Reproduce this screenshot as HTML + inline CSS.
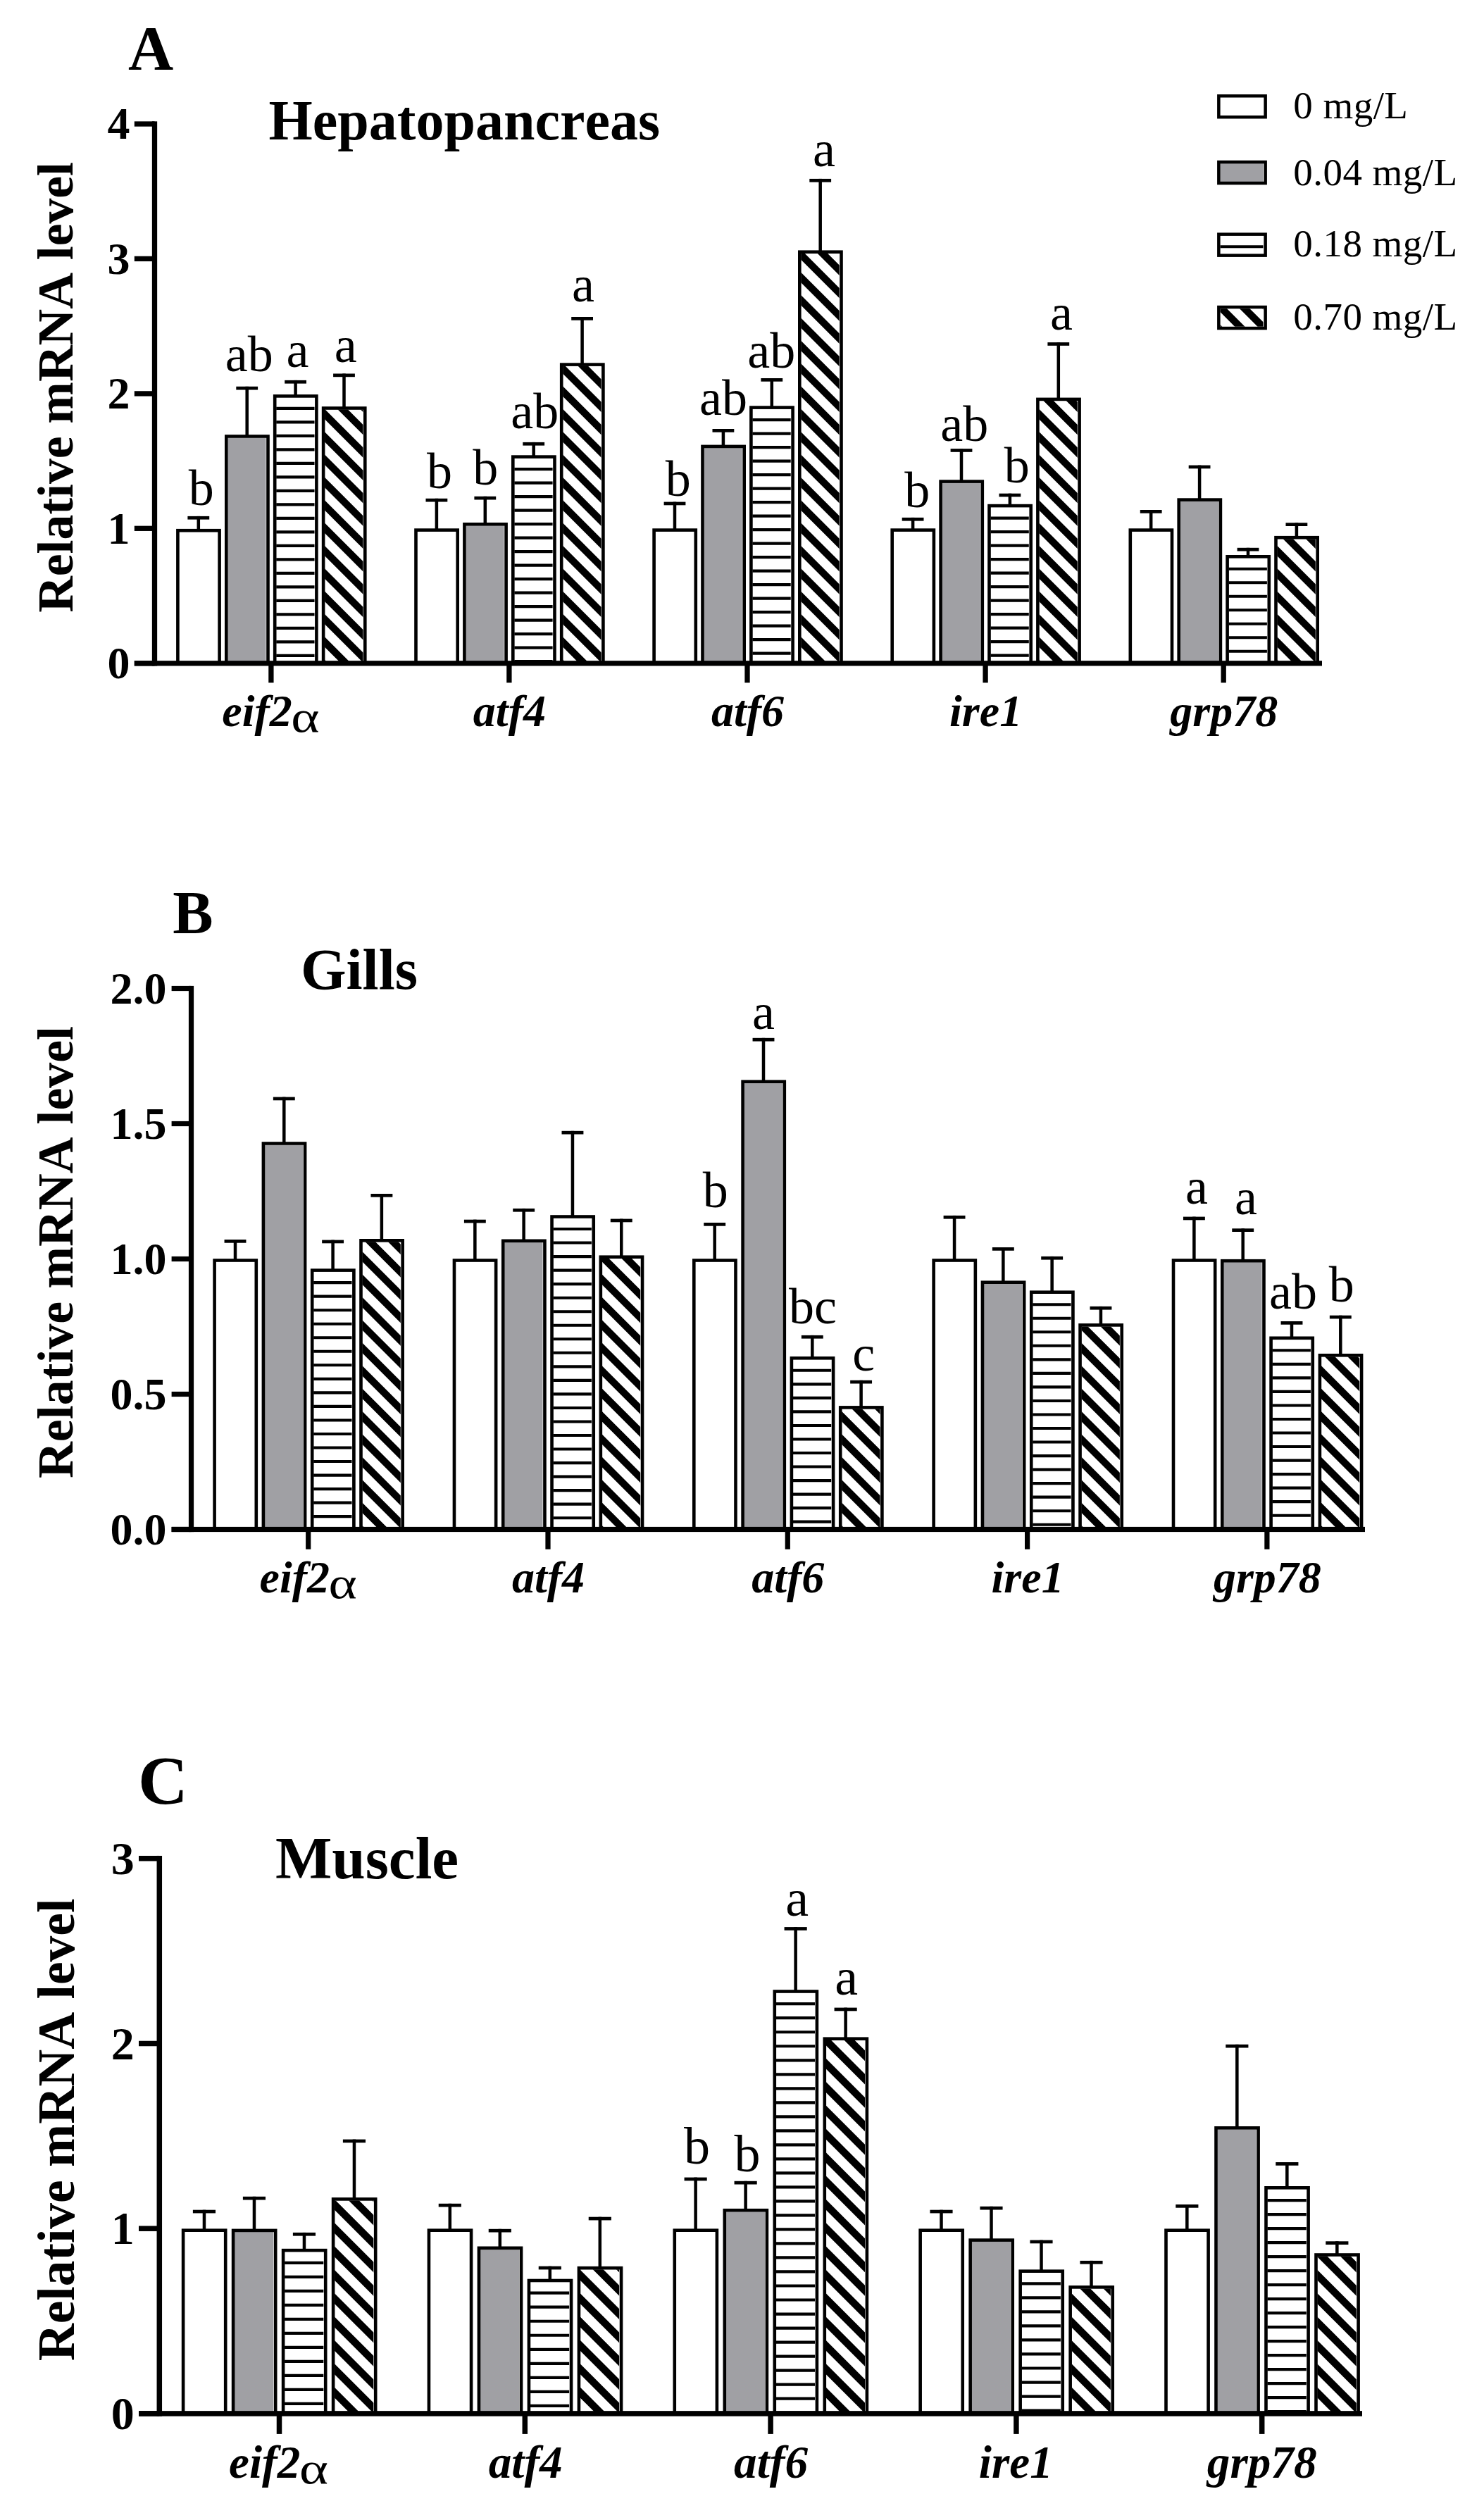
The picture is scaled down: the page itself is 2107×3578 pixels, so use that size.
<!DOCTYPE html>
<html lang="en"><head><meta charset="utf-8"><title>Relative mRNA level</title>
<style>html,body{margin:0;padding:0;background:#fff}svg{display:block}text{white-space:pre;font-kerning:none}</style>
</head><body>
<svg width="2107" height="3578" viewBox="0 0 2107 3578" font-family="'Liberation Serif',serif" fill="#000">
<rect width="2107" height="3578" fill="#fff"/>
<rect x="252.40" y="753.20" width="59.20" height="188.60" fill="none" stroke="#000" stroke-width="4.6"/>
<rect x="266.40" y="732.90" width="30.80" height="4.70" fill="#000"/>
<rect x="279.55" y="732.90" width="4.50" height="20.00" fill="#000"/>
<rect x="323.30" y="621.50" width="54.30" height="320.30" fill="#a0a0a4"/>
<rect x="321.30" y="619.50" width="59.20" height="322.30" fill="none" stroke="#000" stroke-width="4.6"/>
<rect x="335.30" y="548.80" width="30.80" height="4.70" fill="#000"/>
<rect x="348.45" y="548.80" width="4.50" height="70.40" fill="#000"/>
<path d="M392.20 577.85h54.30v4.10h-54.30zM392.20 597.35h54.30v4.10h-54.30zM392.20 616.85h54.30v4.10h-54.30zM392.20 636.35h54.30v4.10h-54.30zM392.20 655.85h54.30v4.10h-54.30zM392.20 675.35h54.30v4.10h-54.30zM392.20 694.85h54.30v4.10h-54.30zM392.20 714.35h54.30v4.10h-54.30zM392.20 733.85h54.30v4.10h-54.30zM392.20 753.35h54.30v4.10h-54.30zM392.20 772.85h54.30v4.10h-54.30zM392.20 792.35h54.30v4.10h-54.30zM392.20 811.85h54.30v4.10h-54.30zM392.20 831.35h54.30v4.10h-54.30zM392.20 850.85h54.30v4.10h-54.30zM392.20 870.35h54.30v4.10h-54.30zM392.20 889.85h54.30v4.10h-54.30zM392.20 909.35h54.30v4.10h-54.30zM392.20 928.85h54.30v4.10h-54.30z"/>
<rect x="390.20" y="562.40" width="59.20" height="379.40" fill="none" stroke="#000" stroke-width="4.6"/>
<rect x="404.20" y="539.90" width="30.80" height="4.70" fill="#000"/>
<rect x="417.35" y="539.90" width="4.50" height="22.20" fill="#000"/>
<svg x="461.10" y="581.50" width="54.30" height="360.30" viewBox="4.30 -360.30 54.30 360.30" overflow="hidden">
<path d="M-10 -497.40L90 -397.40M-10 -465.05L90 -365.05M-10 -432.70L90 -332.70M-10 -400.35L90 -300.35M-10 -368.00L90 -268.00M-10 -335.65L90 -235.65M-10 -303.30L90 -203.30M-10 -270.95L90 -170.95M-10 -238.60L90 -138.60M-10 -206.25L90 -106.25M-10 -173.90L90 -73.90M-10 -141.55L90 -41.55M-10 -109.20L90 -9.20M-10 -76.85L90 23.15M-10 -44.50L90 55.50M-10 -12.15L90 87.85M-10 20.20L90 120.20M-10 52.55L90 152.55" stroke="#000" stroke-width="10.18" fill="none"/>
</svg>
<rect x="459.10" y="579.50" width="59.20" height="362.30" fill="none" stroke="#000" stroke-width="4.6"/>
<rect x="473.10" y="530.50" width="30.80" height="4.70" fill="#000"/>
<rect x="486.25" y="530.50" width="4.50" height="48.70" fill="#000"/>
<rect x="590.50" y="752.60" width="59.20" height="189.20" fill="none" stroke="#000" stroke-width="4.6"/>
<rect x="604.50" y="707.80" width="30.80" height="4.70" fill="#000"/>
<rect x="617.65" y="707.80" width="4.50" height="44.50" fill="#000"/>
<rect x="661.40" y="746.30" width="54.30" height="195.50" fill="#a0a0a4"/>
<rect x="659.40" y="744.30" width="59.20" height="197.50" fill="none" stroke="#000" stroke-width="4.6"/>
<rect x="673.40" y="704.80" width="30.80" height="4.70" fill="#000"/>
<rect x="686.55" y="704.80" width="4.50" height="39.20" fill="#000"/>
<path d="M730.30 664.05h54.30v4.10h-54.30zM730.30 683.55h54.30v4.10h-54.30zM730.30 703.05h54.30v4.10h-54.30zM730.30 722.55h54.30v4.10h-54.30zM730.30 742.05h54.30v4.10h-54.30zM730.30 761.55h54.30v4.10h-54.30zM730.30 781.05h54.30v4.10h-54.30zM730.30 800.55h54.30v4.10h-54.30zM730.30 820.05h54.30v4.10h-54.30zM730.30 839.55h54.30v4.10h-54.30zM730.30 859.05h54.30v4.10h-54.30zM730.30 878.55h54.30v4.10h-54.30zM730.30 898.05h54.30v4.10h-54.30zM730.30 917.55h54.30v4.10h-54.30zM730.30 937.05h54.30v4.10h-54.30z"/>
<rect x="728.30" y="648.60" width="59.20" height="293.20" fill="none" stroke="#000" stroke-width="4.6"/>
<rect x="742.30" y="627.90" width="30.80" height="4.70" fill="#000"/>
<rect x="755.45" y="627.90" width="4.50" height="20.40" fill="#000"/>
<svg x="799.20" y="519.60" width="54.30" height="422.20" viewBox="4.30 -422.20 54.30 422.20" overflow="hidden">
<path d="M-10 -562.10L90 -462.10M-10 -529.75L90 -429.75M-10 -497.40L90 -397.40M-10 -465.05L90 -365.05M-10 -432.70L90 -332.70M-10 -400.35L90 -300.35M-10 -368.00L90 -268.00M-10 -335.65L90 -235.65M-10 -303.30L90 -203.30M-10 -270.95L90 -170.95M-10 -238.60L90 -138.60M-10 -206.25L90 -106.25M-10 -173.90L90 -73.90M-10 -141.55L90 -41.55M-10 -109.20L90 -9.20M-10 -76.85L90 23.15M-10 -44.50L90 55.50M-10 -12.15L90 87.85M-10 20.20L90 120.20M-10 52.55L90 152.55" stroke="#000" stroke-width="10.18" fill="none"/>
</svg>
<rect x="797.20" y="517.60" width="59.20" height="424.20" fill="none" stroke="#000" stroke-width="4.6"/>
<rect x="811.20" y="450.00" width="30.80" height="4.70" fill="#000"/>
<rect x="824.35" y="450.00" width="4.50" height="67.30" fill="#000"/>
<rect x="928.60" y="752.60" width="59.20" height="189.20" fill="none" stroke="#000" stroke-width="4.6"/>
<rect x="942.60" y="712.60" width="30.80" height="4.70" fill="#000"/>
<rect x="955.75" y="712.60" width="4.50" height="39.70" fill="#000"/>
<rect x="999.50" y="635.90" width="54.30" height="305.90" fill="#a0a0a4"/>
<rect x="997.50" y="633.90" width="59.20" height="307.90" fill="none" stroke="#000" stroke-width="4.6"/>
<rect x="1011.50" y="609.00" width="30.80" height="4.70" fill="#000"/>
<rect x="1024.65" y="609.00" width="4.50" height="24.60" fill="#000"/>
<path d="M1068.40 594.05h54.30v4.10h-54.30zM1068.40 613.55h54.30v4.10h-54.30zM1068.40 633.05h54.30v4.10h-54.30zM1068.40 652.55h54.30v4.10h-54.30zM1068.40 672.05h54.30v4.10h-54.30zM1068.40 691.55h54.30v4.10h-54.30zM1068.40 711.05h54.30v4.10h-54.30zM1068.40 730.55h54.30v4.10h-54.30zM1068.40 750.05h54.30v4.10h-54.30zM1068.40 769.55h54.30v4.10h-54.30zM1068.40 789.05h54.30v4.10h-54.30zM1068.40 808.55h54.30v4.10h-54.30zM1068.40 828.05h54.30v4.10h-54.30zM1068.40 847.55h54.30v4.10h-54.30zM1068.40 867.05h54.30v4.10h-54.30zM1068.40 886.55h54.30v4.10h-54.30zM1068.40 906.05h54.30v4.10h-54.30zM1068.40 925.55h54.30v4.10h-54.30z"/>
<rect x="1066.40" y="578.60" width="59.20" height="363.20" fill="none" stroke="#000" stroke-width="4.6"/>
<rect x="1080.40" y="537.00" width="30.80" height="4.70" fill="#000"/>
<rect x="1093.55" y="537.00" width="4.50" height="41.30" fill="#000"/>
<svg x="1137.30" y="359.70" width="54.30" height="582.10" viewBox="4.30 -582.10 54.30 582.10" overflow="hidden">
<path d="M-10 -723.85L90 -623.85M-10 -691.50L90 -591.50M-10 -659.15L90 -559.15M-10 -626.80L90 -526.80M-10 -594.45L90 -494.45M-10 -562.10L90 -462.10M-10 -529.75L90 -429.75M-10 -497.40L90 -397.40M-10 -465.05L90 -365.05M-10 -432.70L90 -332.70M-10 -400.35L90 -300.35M-10 -368.00L90 -268.00M-10 -335.65L90 -235.65M-10 -303.30L90 -203.30M-10 -270.95L90 -170.95M-10 -238.60L90 -138.60M-10 -206.25L90 -106.25M-10 -173.90L90 -73.90M-10 -141.55L90 -41.55M-10 -109.20L90 -9.20M-10 -76.85L90 23.15M-10 -44.50L90 55.50M-10 -12.15L90 87.85M-10 20.20L90 120.20M-10 52.55L90 152.55" stroke="#000" stroke-width="10.18" fill="none"/>
</svg>
<rect x="1135.30" y="357.70" width="59.20" height="584.10" fill="none" stroke="#000" stroke-width="4.6"/>
<rect x="1149.30" y="253.90" width="30.80" height="4.70" fill="#000"/>
<rect x="1162.45" y="253.90" width="4.50" height="103.50" fill="#000"/>
<rect x="1266.70" y="752.60" width="59.20" height="189.20" fill="none" stroke="#000" stroke-width="4.6"/>
<rect x="1280.70" y="734.90" width="30.80" height="4.70" fill="#000"/>
<rect x="1293.85" y="734.90" width="4.50" height="17.40" fill="#000"/>
<rect x="1337.60" y="685.60" width="54.30" height="256.20" fill="#a0a0a4"/>
<rect x="1335.60" y="683.60" width="59.20" height="258.20" fill="none" stroke="#000" stroke-width="4.6"/>
<rect x="1349.60" y="637.10" width="30.80" height="4.70" fill="#000"/>
<rect x="1362.75" y="637.10" width="4.50" height="46.20" fill="#000"/>
<path d="M1406.50 733.55h54.30v4.10h-54.30zM1406.50 753.05h54.30v4.10h-54.30zM1406.50 772.55h54.30v4.10h-54.30zM1406.50 792.05h54.30v4.10h-54.30zM1406.50 811.55h54.30v4.10h-54.30zM1406.50 831.05h54.30v4.10h-54.30zM1406.50 850.55h54.30v4.10h-54.30zM1406.50 870.05h54.30v4.10h-54.30zM1406.50 889.55h54.30v4.10h-54.30zM1406.50 909.05h54.30v4.10h-54.30zM1406.50 928.55h54.30v4.10h-54.30z"/>
<rect x="1404.50" y="718.10" width="59.20" height="223.70" fill="none" stroke="#000" stroke-width="4.6"/>
<rect x="1418.50" y="700.70" width="30.80" height="4.70" fill="#000"/>
<rect x="1431.65" y="700.70" width="4.50" height="17.10" fill="#000"/>
<svg x="1475.40" y="568.90" width="54.30" height="372.90" viewBox="4.30 -372.90 54.30 372.90" overflow="hidden">
<path d="M-10 -529.75L90 -429.75M-10 -497.40L90 -397.40M-10 -465.05L90 -365.05M-10 -432.70L90 -332.70M-10 -400.35L90 -300.35M-10 -368.00L90 -268.00M-10 -335.65L90 -235.65M-10 -303.30L90 -203.30M-10 -270.95L90 -170.95M-10 -238.60L90 -138.60M-10 -206.25L90 -106.25M-10 -173.90L90 -73.90M-10 -141.55L90 -41.55M-10 -109.20L90 -9.20M-10 -76.85L90 23.15M-10 -44.50L90 55.50M-10 -12.15L90 87.85M-10 20.20L90 120.20M-10 52.55L90 152.55" stroke="#000" stroke-width="10.18" fill="none"/>
</svg>
<rect x="1473.40" y="566.90" width="59.20" height="374.90" fill="none" stroke="#000" stroke-width="4.6"/>
<rect x="1487.40" y="486.10" width="30.80" height="4.70" fill="#000"/>
<rect x="1500.55" y="486.10" width="4.50" height="80.50" fill="#000"/>
<rect x="1604.80" y="752.60" width="59.20" height="189.20" fill="none" stroke="#000" stroke-width="4.6"/>
<rect x="1618.80" y="724.00" width="30.80" height="4.70" fill="#000"/>
<rect x="1631.95" y="724.00" width="4.50" height="28.30" fill="#000"/>
<rect x="1675.70" y="711.60" width="54.30" height="230.20" fill="#a0a0a4"/>
<rect x="1673.70" y="709.60" width="59.20" height="232.20" fill="none" stroke="#000" stroke-width="4.6"/>
<rect x="1687.70" y="660.60" width="30.80" height="4.70" fill="#000"/>
<rect x="1700.85" y="660.60" width="4.50" height="48.70" fill="#000"/>
<path d="M1744.60 805.75h54.30v4.10h-54.30zM1744.60 825.25h54.30v4.10h-54.30zM1744.60 844.75h54.30v4.10h-54.30zM1744.60 864.25h54.30v4.10h-54.30zM1744.60 883.75h54.30v4.10h-54.30zM1744.60 903.25h54.30v4.10h-54.30zM1744.60 922.75h54.30v4.10h-54.30z"/>
<rect x="1742.60" y="790.30" width="59.20" height="151.50" fill="none" stroke="#000" stroke-width="4.6"/>
<rect x="1756.60" y="777.80" width="30.80" height="4.70" fill="#000"/>
<rect x="1769.75" y="777.80" width="4.50" height="12.20" fill="#000"/>
<svg x="1813.50" y="765.20" width="54.30" height="176.60" viewBox="4.30 -176.60 54.30 176.60" overflow="hidden">
<path d="M-10 -335.65L90 -235.65M-10 -303.30L90 -203.30M-10 -270.95L90 -170.95M-10 -238.60L90 -138.60M-10 -206.25L90 -106.25M-10 -173.90L90 -73.90M-10 -141.55L90 -41.55M-10 -109.20L90 -9.20M-10 -76.85L90 23.15M-10 -44.50L90 55.50M-10 -12.15L90 87.85M-10 20.20L90 120.20M-10 52.55L90 152.55" stroke="#000" stroke-width="10.18" fill="none"/>
</svg>
<rect x="1811.50" y="763.20" width="59.20" height="178.60" fill="none" stroke="#000" stroke-width="4.6"/>
<rect x="1825.50" y="742.30" width="30.80" height="4.70" fill="#000"/>
<rect x="1838.65" y="742.30" width="4.50" height="20.60" fill="#000"/>
<rect x="215.85" y="172.35" width="7.30" height="773.10" fill="#000"/>
<rect x="190.80" y="938.15" width="1686.20" height="7.30" fill="#000"/>
<rect x="190.80" y="172.35" width="28.70" height="7.30" fill="#000"/>
<text x="184.50" y="197.20" font-size="64" font-weight="bold" font-style="normal" text-anchor="end">4</text>
<rect x="190.80" y="363.75" width="28.70" height="7.30" fill="#000"/>
<text x="184.50" y="388.60" font-size="64" font-weight="bold" font-style="normal" text-anchor="end">3</text>
<rect x="190.80" y="555.25" width="28.70" height="7.30" fill="#000"/>
<text x="184.50" y="580.10" font-size="64" font-weight="bold" font-style="normal" text-anchor="end">2</text>
<rect x="190.80" y="746.65" width="28.70" height="7.30" fill="#000"/>
<text x="184.50" y="771.50" font-size="64" font-weight="bold" font-style="normal" text-anchor="end">1</text>
<rect x="190.80" y="938.15" width="28.70" height="7.30" fill="#000"/>
<text x="184.50" y="963.00" font-size="64" font-weight="bold" font-style="normal" text-anchor="end">0</text>
<rect x="381.25" y="941.80" width="7.30" height="27.55" fill="#000"/>
<text x="315.28" y="1031.40" font-size="64" font-weight="bold" font-style="italic">eif2</text>
<text transform="translate(413.33,1039.40) scale(1.22,1)" font-size="63.0">α</text>
<rect x="719.25" y="941.80" width="7.30" height="27.55" fill="#000"/>
<text x="723.40" y="1031.40" font-size="64" font-weight="bold" font-style="italic" text-anchor="middle">atf4</text>
<rect x="1057.35" y="941.80" width="7.30" height="27.55" fill="#000"/>
<text x="1061.50" y="1031.40" font-size="64" font-weight="bold" font-style="italic" text-anchor="middle">atf6</text>
<rect x="1395.45" y="941.80" width="7.30" height="27.55" fill="#000"/>
<text x="1399.60" y="1031.40" font-size="64" font-weight="bold" font-style="italic" text-anchor="middle">ire1</text>
<rect x="1733.55" y="941.80" width="7.30" height="27.55" fill="#000"/>
<text x="1737.70" y="1031.40" font-size="64" font-weight="bold" font-style="italic" text-anchor="middle">grp78</text>
<text transform="translate(102.70,550.00) rotate(-90)" font-size="71.55" font-weight="bold" text-anchor="middle">Relative mRNA level</text>
<text x="381.60" y="197.70" font-size="80" font-weight="bold" font-style="normal" text-anchor="start">Hepatopancreas</text>
<text x="182.00" y="98.00" font-size="89" font-weight="bold" font-style="normal" text-anchor="start">A</text>
<text x="267.80" y="716.80" font-size="72" font-weight="normal" font-style="normal" text-anchor="start">b</text>
<text x="319.78" y="526.50" font-size="72" font-weight="normal" font-style="normal" text-anchor="start">ab</text>
<text x="406.48" y="520.50" font-size="72" font-weight="normal" font-style="normal" text-anchor="start">a</text>
<text x="474.78" y="513.80" font-size="72" font-weight="normal" font-style="normal" text-anchor="start">a</text>
<text x="606.10" y="692.80" font-size="72" font-weight="normal" font-style="normal" text-anchor="start">b</text>
<text x="671.30" y="687.70" font-size="72" font-weight="normal" font-style="normal" text-anchor="start">b</text>
<text x="725.18" y="608.30" font-size="72" font-weight="normal" font-style="normal" text-anchor="start">ab</text>
<text x="811.88" y="427.60" font-size="72" font-weight="normal" font-style="normal" text-anchor="start">a</text>
<text x="944.80" y="704.00" font-size="72" font-weight="normal" font-style="normal" text-anchor="start">b</text>
<text x="992.98" y="589.00" font-size="72" font-weight="normal" font-style="normal" text-anchor="start">ab</text>
<text x="1061.28" y="522.20" font-size="72" font-weight="normal" font-style="normal" text-anchor="start">ab</text>
<text x="1154.08" y="235.70" font-size="72" font-weight="normal" font-style="normal" text-anchor="start">a</text>
<text x="1284.20" y="720.20" font-size="72" font-weight="normal" font-style="normal" text-anchor="start">b</text>
<text x="1335.28" y="625.70" font-size="72" font-weight="normal" font-style="normal" text-anchor="start">ab</text>
<text x="1425.70" y="685.00" font-size="72" font-weight="normal" font-style="normal" text-anchor="start">b</text>
<text x="1490.98" y="468.20" font-size="72" font-weight="normal" font-style="normal" text-anchor="start">a</text>
<rect x="304.60" y="1789.50" width="59.20" height="382.00" fill="none" stroke="#000" stroke-width="4.6"/>
<rect x="318.56" y="1760.00" width="30.89" height="4.70" fill="#000"/>
<rect x="331.75" y="1760.00" width="4.50" height="29.20" fill="#000"/>
<rect x="375.90" y="1625.50" width="54.30" height="546.00" fill="#a0a0a4"/>
<rect x="373.90" y="1623.50" width="59.20" height="548.00" fill="none" stroke="#000" stroke-width="4.6"/>
<rect x="387.86" y="1557.60" width="30.89" height="4.70" fill="#000"/>
<rect x="401.05" y="1557.60" width="4.50" height="65.60" fill="#000"/>
<path d="M445.20 1819.06h54.30v4.11h-54.30zM445.20 1838.59h54.30v4.11h-54.30zM445.20 1858.13h54.30v4.11h-54.30zM445.20 1877.66h54.30v4.11h-54.30zM445.20 1897.19h54.30v4.11h-54.30zM445.20 1916.73h54.30v4.11h-54.30zM445.20 1936.26h54.30v4.11h-54.30zM445.20 1955.79h54.30v4.11h-54.30zM445.20 1975.32h54.30v4.11h-54.30zM445.20 1994.86h54.30v4.11h-54.30zM445.20 2014.39h54.30v4.11h-54.30zM445.20 2033.92h54.30v4.11h-54.30zM445.20 2053.46h54.30v4.11h-54.30zM445.20 2072.99h54.30v4.11h-54.30zM445.20 2092.52h54.30v4.11h-54.30zM445.20 2112.06h54.30v4.11h-54.30zM445.20 2131.59h54.30v4.11h-54.30zM445.20 2151.12h54.30v4.11h-54.30zM445.20 2170.66h54.30v0.84h-54.30z"/>
<rect x="443.20" y="1803.60" width="59.20" height="367.90" fill="none" stroke="#000" stroke-width="4.6"/>
<rect x="457.16" y="1760.60" width="30.89" height="4.70" fill="#000"/>
<rect x="470.35" y="1760.60" width="4.50" height="42.70" fill="#000"/>
<svg x="514.50" y="1763.30" width="54.30" height="408.20" viewBox="4.30 -408.20 54.30 408.20" overflow="hidden">
<path d="M-10 -563.50L90 -463.50M-10 -531.09L90 -431.09M-10 -498.68L90 -398.68M-10 -466.26L90 -366.26M-10 -433.85L90 -333.85M-10 -401.43L90 -301.43M-10 -369.02L90 -269.02M-10 -336.60L90 -236.60M-10 -304.19L90 -204.19M-10 -271.77L90 -171.77M-10 -239.36L90 -139.36M-10 -206.94L90 -106.94M-10 -174.53L90 -74.53M-10 -142.11L90 -42.11M-10 -109.70L90 -9.70M-10 -77.28L90 22.72M-10 -44.87L90 55.13M-10 -12.45L90 87.55M-10 19.96L90 119.96M-10 52.37L90 152.37" stroke="#000" stroke-width="10.20" fill="none"/>
</svg>
<rect x="512.50" y="1761.30" width="59.20" height="410.20" fill="none" stroke="#000" stroke-width="4.6"/>
<rect x="526.46" y="1695.00" width="30.89" height="4.70" fill="#000"/>
<rect x="539.65" y="1695.00" width="4.50" height="66.00" fill="#000"/>
<rect x="644.95" y="1789.50" width="59.20" height="382.00" fill="none" stroke="#000" stroke-width="4.6"/>
<rect x="658.91" y="1731.70" width="30.89" height="4.70" fill="#000"/>
<rect x="672.10" y="1731.70" width="4.50" height="57.50" fill="#000"/>
<rect x="716.25" y="1763.80" width="54.30" height="407.70" fill="#a0a0a4"/>
<rect x="714.25" y="1761.80" width="59.20" height="409.70" fill="none" stroke="#000" stroke-width="4.6"/>
<rect x="728.21" y="1715.90" width="30.89" height="4.70" fill="#000"/>
<rect x="741.40" y="1715.90" width="4.50" height="45.60" fill="#000"/>
<path d="M785.55 1742.96h54.30v4.11h-54.30zM785.55 1762.49h54.30v4.11h-54.30zM785.55 1782.03h54.30v4.11h-54.30zM785.55 1801.56h54.30v4.11h-54.30zM785.55 1821.09h54.30v4.11h-54.30zM785.55 1840.63h54.30v4.11h-54.30zM785.55 1860.16h54.30v4.11h-54.30zM785.55 1879.69h54.30v4.11h-54.30zM785.55 1899.22h54.30v4.11h-54.30zM785.55 1918.76h54.30v4.11h-54.30zM785.55 1938.29h54.30v4.11h-54.30zM785.55 1957.82h54.30v4.11h-54.30zM785.55 1977.36h54.30v4.11h-54.30zM785.55 1996.89h54.30v4.11h-54.30zM785.55 2016.42h54.30v4.11h-54.30zM785.55 2035.96h54.30v4.11h-54.30zM785.55 2055.49h54.30v4.11h-54.30zM785.55 2075.02h54.30v4.11h-54.30zM785.55 2094.56h54.30v4.11h-54.30zM785.55 2114.09h54.30v4.11h-54.30zM785.55 2133.62h54.30v4.11h-54.30zM785.55 2153.16h54.30v4.11h-54.30z"/>
<rect x="783.55" y="1727.50" width="59.20" height="444.00" fill="none" stroke="#000" stroke-width="4.6"/>
<rect x="797.51" y="1605.80" width="30.89" height="4.70" fill="#000"/>
<rect x="810.70" y="1605.80" width="4.50" height="121.40" fill="#000"/>
<svg x="854.85" y="1786.70" width="54.30" height="384.80" viewBox="4.30 -384.80 54.30 384.80" overflow="hidden">
<path d="M-10 -531.09L90 -431.09M-10 -498.68L90 -398.68M-10 -466.26L90 -366.26M-10 -433.85L90 -333.85M-10 -401.43L90 -301.43M-10 -369.02L90 -269.02M-10 -336.60L90 -236.60M-10 -304.19L90 -204.19M-10 -271.77L90 -171.77M-10 -239.36L90 -139.36M-10 -206.94L90 -106.94M-10 -174.53L90 -74.53M-10 -142.11L90 -42.11M-10 -109.70L90 -9.70M-10 -77.28L90 22.72M-10 -44.87L90 55.13M-10 -12.45L90 87.55M-10 19.96L90 119.96M-10 52.37L90 152.37" stroke="#000" stroke-width="10.20" fill="none"/>
</svg>
<rect x="852.85" y="1784.70" width="59.20" height="386.80" fill="none" stroke="#000" stroke-width="4.6"/>
<rect x="866.81" y="1730.60" width="30.89" height="4.70" fill="#000"/>
<rect x="880.00" y="1730.60" width="4.50" height="53.80" fill="#000"/>
<rect x="985.30" y="1789.50" width="59.20" height="382.00" fill="none" stroke="#000" stroke-width="4.6"/>
<rect x="999.26" y="1736.00" width="30.89" height="4.70" fill="#000"/>
<rect x="1012.45" y="1736.00" width="4.50" height="53.20" fill="#000"/>
<rect x="1056.60" y="1537.70" width="54.30" height="633.80" fill="#a0a0a4"/>
<rect x="1054.60" y="1535.70" width="59.20" height="635.80" fill="none" stroke="#000" stroke-width="4.6"/>
<rect x="1068.56" y="1473.80" width="30.89" height="4.70" fill="#000"/>
<rect x="1081.75" y="1473.80" width="4.50" height="61.60" fill="#000"/>
<path d="M1125.90 1943.76h54.30v4.11h-54.30zM1125.90 1963.29h54.30v4.11h-54.30zM1125.90 1982.83h54.30v4.11h-54.30zM1125.90 2002.36h54.30v4.11h-54.30zM1125.90 2021.89h54.30v4.11h-54.30zM1125.90 2041.43h54.30v4.11h-54.30zM1125.90 2060.96h54.30v4.11h-54.30zM1125.90 2080.49h54.30v4.11h-54.30zM1125.90 2100.02h54.30v4.11h-54.30zM1125.90 2119.56h54.30v4.11h-54.30zM1125.90 2139.09h54.30v4.11h-54.30zM1125.90 2158.62h54.30v4.11h-54.30z"/>
<rect x="1123.90" y="1928.30" width="59.20" height="243.20" fill="none" stroke="#000" stroke-width="4.6"/>
<rect x="1137.86" y="1895.90" width="30.89" height="4.70" fill="#000"/>
<rect x="1151.05" y="1895.90" width="4.50" height="32.10" fill="#000"/>
<svg x="1195.20" y="2000.40" width="54.30" height="171.10" viewBox="4.30 -171.10 54.30 171.10" overflow="hidden">
<path d="M-10 -304.19L90 -204.19M-10 -271.77L90 -171.77M-10 -239.36L90 -139.36M-10 -206.94L90 -106.94M-10 -174.53L90 -74.53M-10 -142.11L90 -42.11M-10 -109.70L90 -9.70M-10 -77.28L90 22.72M-10 -44.87L90 55.13M-10 -12.45L90 87.55M-10 19.96L90 119.96M-10 52.37L90 152.37" stroke="#000" stroke-width="10.20" fill="none"/>
</svg>
<rect x="1193.20" y="1998.40" width="59.20" height="173.10" fill="none" stroke="#000" stroke-width="4.6"/>
<rect x="1207.16" y="1959.80" width="30.89" height="4.70" fill="#000"/>
<rect x="1220.35" y="1959.80" width="4.50" height="38.30" fill="#000"/>
<rect x="1325.65" y="1789.50" width="59.20" height="382.00" fill="none" stroke="#000" stroke-width="4.6"/>
<rect x="1339.61" y="1725.90" width="30.89" height="4.70" fill="#000"/>
<rect x="1352.80" y="1725.90" width="4.50" height="63.30" fill="#000"/>
<rect x="1396.95" y="1822.70" width="54.30" height="348.80" fill="#a0a0a4"/>
<rect x="1394.95" y="1820.70" width="59.20" height="350.80" fill="none" stroke="#000" stroke-width="4.6"/>
<rect x="1408.91" y="1771.00" width="30.89" height="4.70" fill="#000"/>
<rect x="1422.10" y="1771.00" width="4.50" height="49.40" fill="#000"/>
<path d="M1466.25 1850.16h54.30v4.11h-54.30zM1466.25 1869.69h54.30v4.11h-54.30zM1466.25 1889.23h54.30v4.11h-54.30zM1466.25 1908.76h54.30v4.11h-54.30zM1466.25 1928.29h54.30v4.11h-54.30zM1466.25 1947.83h54.30v4.11h-54.30zM1466.25 1967.36h54.30v4.11h-54.30zM1466.25 1986.89h54.30v4.11h-54.30zM1466.25 2006.42h54.30v4.11h-54.30zM1466.25 2025.96h54.30v4.11h-54.30zM1466.25 2045.49h54.30v4.11h-54.30zM1466.25 2065.02h54.30v4.11h-54.30zM1466.25 2084.56h54.30v4.11h-54.30zM1466.25 2104.09h54.30v4.11h-54.30zM1466.25 2123.62h54.30v4.11h-54.30zM1466.25 2143.16h54.30v4.11h-54.30zM1466.25 2162.69h54.30v4.11h-54.30z"/>
<rect x="1464.25" y="1834.70" width="59.20" height="336.80" fill="none" stroke="#000" stroke-width="4.6"/>
<rect x="1478.21" y="1783.90" width="30.89" height="4.70" fill="#000"/>
<rect x="1491.40" y="1783.90" width="4.50" height="50.50" fill="#000"/>
<svg x="1535.55" y="1883.40" width="54.30" height="288.10" viewBox="4.30 -288.10 54.30 288.10" overflow="hidden">
<path d="M-10 -433.85L90 -333.85M-10 -401.43L90 -301.43M-10 -369.02L90 -269.02M-10 -336.60L90 -236.60M-10 -304.19L90 -204.19M-10 -271.77L90 -171.77M-10 -239.36L90 -139.36M-10 -206.94L90 -106.94M-10 -174.53L90 -74.53M-10 -142.11L90 -42.11M-10 -109.70L90 -9.70M-10 -77.28L90 22.72M-10 -44.87L90 55.13M-10 -12.45L90 87.55M-10 19.96L90 119.96M-10 52.37L90 152.37" stroke="#000" stroke-width="10.20" fill="none"/>
</svg>
<rect x="1533.55" y="1881.40" width="59.20" height="290.10" fill="none" stroke="#000" stroke-width="4.6"/>
<rect x="1547.51" y="1854.90" width="30.89" height="4.70" fill="#000"/>
<rect x="1560.70" y="1854.90" width="4.50" height="26.20" fill="#000"/>
<rect x="1666.00" y="1789.50" width="59.20" height="382.00" fill="none" stroke="#000" stroke-width="4.6"/>
<rect x="1679.96" y="1727.60" width="30.89" height="4.70" fill="#000"/>
<rect x="1693.15" y="1727.60" width="4.50" height="61.60" fill="#000"/>
<rect x="1737.30" y="1792.20" width="54.30" height="379.30" fill="#a0a0a4"/>
<rect x="1735.30" y="1790.20" width="59.20" height="381.30" fill="none" stroke="#000" stroke-width="4.6"/>
<rect x="1749.26" y="1744.30" width="30.89" height="4.70" fill="#000"/>
<rect x="1762.45" y="1744.30" width="4.50" height="45.60" fill="#000"/>
<path d="M1806.60 1915.26h54.30v4.11h-54.30zM1806.60 1934.79h54.30v4.11h-54.30zM1806.60 1954.33h54.30v4.11h-54.30zM1806.60 1973.86h54.30v4.11h-54.30zM1806.60 1993.39h54.30v4.11h-54.30zM1806.60 2012.93h54.30v4.11h-54.30zM1806.60 2032.46h54.30v4.11h-54.30zM1806.60 2051.99h54.30v4.11h-54.30zM1806.60 2071.52h54.30v4.11h-54.30zM1806.60 2091.06h54.30v4.11h-54.30zM1806.60 2110.59h54.30v4.11h-54.30zM1806.60 2130.12h54.30v4.11h-54.30zM1806.60 2149.66h54.30v4.11h-54.30zM1806.60 2169.19h54.30v2.31h-54.30z"/>
<rect x="1804.60" y="1899.80" width="59.20" height="271.70" fill="none" stroke="#000" stroke-width="4.6"/>
<rect x="1818.56" y="1876.00" width="30.89" height="4.70" fill="#000"/>
<rect x="1831.75" y="1876.00" width="4.50" height="23.50" fill="#000"/>
<svg x="1875.90" y="1926.30" width="54.30" height="245.20" viewBox="4.30 -245.20 54.30 245.20" overflow="hidden">
<path d="M-10 -401.43L90 -301.43M-10 -369.02L90 -269.02M-10 -336.60L90 -236.60M-10 -304.19L90 -204.19M-10 -271.77L90 -171.77M-10 -239.36L90 -139.36M-10 -206.94L90 -106.94M-10 -174.53L90 -74.53M-10 -142.11L90 -42.11M-10 -109.70L90 -9.70M-10 -77.28L90 22.72M-10 -44.87L90 55.13M-10 -12.45L90 87.55M-10 19.96L90 119.96M-10 52.37L90 152.37" stroke="#000" stroke-width="10.20" fill="none"/>
</svg>
<rect x="1873.90" y="1924.30" width="59.20" height="247.20" fill="none" stroke="#000" stroke-width="4.6"/>
<rect x="1887.86" y="1867.70" width="30.89" height="4.70" fill="#000"/>
<rect x="1901.05" y="1867.70" width="4.50" height="56.30" fill="#000"/>
<rect x="267.90" y="1399.90" width="7.20" height="775.20" fill="#000"/>
<rect x="243.60" y="2167.90" width="1694.40" height="7.20" fill="#000"/>
<rect x="243.60" y="1399.90" width="27.90" height="7.20" fill="#000"/>
<text x="236.40" y="1424.50" font-size="64" font-weight="bold" font-style="normal" text-anchor="end">2.0</text>
<rect x="243.60" y="1591.90" width="27.90" height="7.20" fill="#000"/>
<text x="236.40" y="1616.50" font-size="64" font-weight="bold" font-style="normal" text-anchor="end">1.5</text>
<rect x="243.60" y="1783.90" width="27.90" height="7.20" fill="#000"/>
<text x="236.40" y="1808.50" font-size="64" font-weight="bold" font-style="normal" text-anchor="end">1.0</text>
<rect x="243.60" y="1975.90" width="27.90" height="7.20" fill="#000"/>
<text x="236.40" y="2000.50" font-size="64" font-weight="bold" font-style="normal" text-anchor="end">0.5</text>
<rect x="243.60" y="2167.90" width="27.90" height="7.20" fill="#000"/>
<text x="236.40" y="2192.50" font-size="64" font-weight="bold" font-style="normal" text-anchor="end">0.0</text>
<rect x="434.10" y="2171.50" width="7.20" height="28.20" fill="#000"/>
<text x="368.48" y="2261.00" font-size="64" font-weight="bold" font-style="italic">eif2</text>
<text transform="translate(466.53,2269.00) scale(1.22,1)" font-size="63.0">α</text>
<rect x="774.40" y="2171.50" width="7.20" height="28.20" fill="#000"/>
<text x="778.50" y="2261.00" font-size="64" font-weight="bold" font-style="italic" text-anchor="middle">atf4</text>
<rect x="1114.70" y="2171.50" width="7.20" height="28.20" fill="#000"/>
<text x="1118.80" y="2261.00" font-size="64" font-weight="bold" font-style="italic" text-anchor="middle">atf6</text>
<rect x="1455.00" y="2171.50" width="7.20" height="28.20" fill="#000"/>
<text x="1459.10" y="2261.00" font-size="64" font-weight="bold" font-style="italic" text-anchor="middle">ire1</text>
<rect x="1795.30" y="2171.50" width="7.20" height="28.20" fill="#000"/>
<text x="1799.40" y="2261.00" font-size="64" font-weight="bold" font-style="italic" text-anchor="middle">grp78</text>
<text transform="translate(102.70,1778.00) rotate(-90)" font-size="71.8" font-weight="bold" text-anchor="middle">Relative mRNA level</text>
<text x="427.00" y="1404.00" font-size="83" font-weight="bold" font-style="normal" text-anchor="start">Gills</text>
<text x="245.30" y="1325.00" font-size="86" font-weight="bold" font-style="normal" text-anchor="start">B</text>
<text x="997.80" y="1714.00" font-size="72" font-weight="normal" font-style="normal" text-anchor="start">b</text>
<text x="1067.98" y="1461.10" font-size="72" font-weight="normal" font-style="normal" text-anchor="start">a</text>
<text x="1120.10" y="1879.00" font-size="72" font-weight="normal" font-style="normal" text-anchor="start">bc</text>
<text x="1210.26" y="1946.30" font-size="72" font-weight="normal" font-style="normal" text-anchor="start">c</text>
<text x="1683.08" y="1708.70" font-size="72" font-weight="normal" font-style="normal" text-anchor="start">a</text>
<text x="1753.08" y="1723.80" font-size="72" font-weight="normal" font-style="normal" text-anchor="start">a</text>
<text x="1802.08" y="1857.70" font-size="72" font-weight="normal" font-style="normal" text-anchor="start">ab</text>
<text x="1886.80" y="1848.30" font-size="72" font-weight="normal" font-style="normal" text-anchor="start">b</text>
<rect x="260.10" y="3166.70" width="60.10" height="260.20" fill="none" stroke="#000" stroke-width="4.6"/>
<rect x="273.88" y="3137.70" width="32.14" height="4.70" fill="#000"/>
<rect x="287.70" y="3137.70" width="4.50" height="28.70" fill="#000"/>
<rect x="333.10" y="3168.90" width="55.20" height="258.00" fill="#a0a0a4"/>
<rect x="331.10" y="3166.90" width="60.10" height="260.00" fill="none" stroke="#000" stroke-width="4.6"/>
<rect x="344.88" y="3118.80" width="32.14" height="4.70" fill="#000"/>
<rect x="358.70" y="3118.80" width="4.50" height="47.80" fill="#000"/>
<path d="M404.10 3210.70h55.20v4.23h-55.20zM404.10 3230.72h55.20v4.23h-55.20zM404.10 3250.73h55.20v4.23h-55.20zM404.10 3270.74h55.20v4.23h-55.20zM404.10 3290.76h55.20v4.23h-55.20zM404.10 3310.77h55.20v4.23h-55.20zM404.10 3330.78h55.20v4.23h-55.20zM404.10 3350.80h55.20v4.23h-55.20zM404.10 3370.81h55.20v4.23h-55.20zM404.10 3390.83h55.20v4.23h-55.20zM404.10 3410.84h55.20v4.23h-55.20z"/>
<rect x="402.10" y="3195.10" width="60.10" height="231.80" fill="none" stroke="#000" stroke-width="4.6"/>
<rect x="415.88" y="3169.90" width="32.14" height="4.70" fill="#000"/>
<rect x="429.70" y="3169.90" width="4.50" height="24.90" fill="#000"/>
<svg x="475.10" y="3124.40" width="55.20" height="302.50" viewBox="4.30 -302.50 55.20 302.50" overflow="hidden">
<path d="M-10 -444.26L90 -344.26M-10 -410.90L90 -310.90M-10 -377.55L90 -277.55M-10 -344.20L90 -244.20M-10 -310.85L90 -210.85M-10 -277.49L90 -177.49M-10 -244.14L90 -144.14M-10 -210.79L90 -110.79M-10 -177.43L90 -77.43M-10 -144.08L90 -44.08M-10 -110.73L90 -10.73M-10 -77.38L90 22.62M-10 -44.02L90 55.98M-10 -10.67L90 89.33M-10 22.68L90 122.68M-10 56.04L90 156.04" stroke="#000" stroke-width="10.50" fill="none"/>
</svg>
<rect x="473.10" y="3122.40" width="60.10" height="304.50" fill="none" stroke="#000" stroke-width="4.6"/>
<rect x="486.88" y="3037.60" width="32.14" height="4.70" fill="#000"/>
<rect x="500.70" y="3037.60" width="4.50" height="84.50" fill="#000"/>
<rect x="608.95" y="3166.70" width="60.10" height="260.20" fill="none" stroke="#000" stroke-width="4.6"/>
<rect x="622.73" y="3128.80" width="32.14" height="4.70" fill="#000"/>
<rect x="636.55" y="3128.80" width="4.50" height="37.60" fill="#000"/>
<rect x="681.95" y="3193.80" width="55.20" height="233.10" fill="#a0a0a4"/>
<rect x="679.95" y="3191.80" width="60.10" height="235.10" fill="none" stroke="#000" stroke-width="4.6"/>
<rect x="693.73" y="3164.80" width="32.14" height="4.70" fill="#000"/>
<rect x="707.55" y="3164.80" width="4.50" height="26.70" fill="#000"/>
<path d="M752.95 3253.60h55.20v4.23h-55.20zM752.95 3273.62h55.20v4.23h-55.20zM752.95 3293.63h55.20v4.23h-55.20zM752.95 3313.64h55.20v4.23h-55.20zM752.95 3333.66h55.20v4.23h-55.20zM752.95 3353.67h55.20v4.23h-55.20zM752.95 3373.68h55.20v4.23h-55.20zM752.95 3393.70h55.20v4.23h-55.20zM752.95 3413.71h55.20v4.23h-55.20z"/>
<rect x="750.95" y="3238.00" width="60.10" height="188.90" fill="none" stroke="#000" stroke-width="4.6"/>
<rect x="764.73" y="3217.70" width="32.14" height="4.70" fill="#000"/>
<rect x="778.55" y="3217.70" width="4.50" height="20.00" fill="#000"/>
<svg x="823.95" y="3222.20" width="55.20" height="204.70" viewBox="4.30 -204.70 55.20 204.70" overflow="hidden">
<path d="M-10 -344.20L90 -244.20M-10 -310.85L90 -210.85M-10 -277.49L90 -177.49M-10 -244.14L90 -144.14M-10 -210.79L90 -110.79M-10 -177.43L90 -77.43M-10 -144.08L90 -44.08M-10 -110.73L90 -10.73M-10 -77.38L90 22.62M-10 -44.02L90 55.98M-10 -10.67L90 89.33M-10 22.68L90 122.68M-10 56.04L90 156.04" stroke="#000" stroke-width="10.50" fill="none"/>
</svg>
<rect x="821.95" y="3220.20" width="60.10" height="206.70" fill="none" stroke="#000" stroke-width="4.6"/>
<rect x="835.73" y="3147.70" width="32.14" height="4.70" fill="#000"/>
<rect x="849.55" y="3147.70" width="4.50" height="72.20" fill="#000"/>
<rect x="957.80" y="3166.70" width="60.10" height="260.20" fill="none" stroke="#000" stroke-width="4.6"/>
<rect x="971.58" y="3091.60" width="32.14" height="4.70" fill="#000"/>
<rect x="985.40" y="3091.60" width="4.50" height="74.80" fill="#000"/>
<rect x="1030.80" y="3140.20" width="55.20" height="286.70" fill="#a0a0a4"/>
<rect x="1028.80" y="3138.20" width="60.10" height="288.70" fill="none" stroke="#000" stroke-width="4.6"/>
<rect x="1042.58" y="3096.80" width="32.14" height="4.70" fill="#000"/>
<rect x="1056.40" y="3096.80" width="4.50" height="41.10" fill="#000"/>
<path d="M1101.80 2843.10h55.20v4.23h-55.20zM1101.80 2863.12h55.20v4.23h-55.20zM1101.80 2883.13h55.20v4.23h-55.20zM1101.80 2903.14h55.20v4.23h-55.20zM1101.80 2923.16h55.20v4.23h-55.20zM1101.80 2943.17h55.20v4.23h-55.20zM1101.80 2963.18h55.20v4.23h-55.20zM1101.80 2983.20h55.20v4.23h-55.20zM1101.80 3003.21h55.20v4.23h-55.20zM1101.80 3023.23h55.20v4.23h-55.20zM1101.80 3043.24h55.20v4.23h-55.20zM1101.80 3063.25h55.20v4.23h-55.20zM1101.80 3083.27h55.20v4.23h-55.20zM1101.80 3103.28h55.20v4.23h-55.20zM1101.80 3123.29h55.20v4.23h-55.20zM1101.80 3143.31h55.20v4.23h-55.20zM1101.80 3163.32h55.20v4.23h-55.20zM1101.80 3183.34h55.20v4.23h-55.20zM1101.80 3203.35h55.20v4.23h-55.20zM1101.80 3223.36h55.20v4.23h-55.20zM1101.80 3243.38h55.20v4.23h-55.20zM1101.80 3263.39h55.20v4.23h-55.20zM1101.80 3283.41h55.20v4.23h-55.20zM1101.80 3303.42h55.20v4.23h-55.20zM1101.80 3323.43h55.20v4.23h-55.20zM1101.80 3343.45h55.20v4.23h-55.20zM1101.80 3363.46h55.20v4.23h-55.20zM1101.80 3383.47h55.20v4.23h-55.20zM1101.80 3403.49h55.20v4.23h-55.20zM1101.80 3423.50h55.20v3.40h-55.20z"/>
<rect x="1099.80" y="2827.50" width="60.10" height="599.40" fill="none" stroke="#000" stroke-width="4.6"/>
<rect x="1113.58" y="2736.10" width="32.14" height="4.70" fill="#000"/>
<rect x="1127.40" y="2736.10" width="4.50" height="91.10" fill="#000"/>
<svg x="1172.80" y="2896.70" width="55.20" height="530.20" viewBox="4.30 -530.20 55.20 530.20" overflow="hidden">
<path d="M-10 -677.73L90 -577.73M-10 -644.37L90 -544.37M-10 -611.02L90 -511.02M-10 -577.67L90 -477.67M-10 -544.32L90 -444.32M-10 -510.96L90 -410.96M-10 -477.61L90 -377.61M-10 -444.26L90 -344.26M-10 -410.90L90 -310.90M-10 -377.55L90 -277.55M-10 -344.20L90 -244.20M-10 -310.85L90 -210.85M-10 -277.49L90 -177.49M-10 -244.14L90 -144.14M-10 -210.79L90 -110.79M-10 -177.43L90 -77.43M-10 -144.08L90 -44.08M-10 -110.73L90 -10.73M-10 -77.38L90 22.62M-10 -44.02L90 55.98M-10 -10.67L90 89.33M-10 22.68L90 122.68M-10 56.04L90 156.04" stroke="#000" stroke-width="10.50" fill="none"/>
</svg>
<rect x="1170.80" y="2894.70" width="60.10" height="532.20" fill="none" stroke="#000" stroke-width="4.6"/>
<rect x="1184.58" y="2850.60" width="32.14" height="4.70" fill="#000"/>
<rect x="1198.40" y="2850.60" width="4.50" height="43.80" fill="#000"/>
<rect x="1306.65" y="3166.70" width="60.10" height="260.20" fill="none" stroke="#000" stroke-width="4.6"/>
<rect x="1320.43" y="3137.70" width="32.14" height="4.70" fill="#000"/>
<rect x="1334.25" y="3137.70" width="4.50" height="28.70" fill="#000"/>
<rect x="1379.65" y="3182.60" width="55.20" height="244.30" fill="#a0a0a4"/>
<rect x="1377.65" y="3180.60" width="60.10" height="246.30" fill="none" stroke="#000" stroke-width="4.6"/>
<rect x="1391.43" y="3132.80" width="32.14" height="4.70" fill="#000"/>
<rect x="1405.25" y="3132.80" width="4.50" height="47.50" fill="#000"/>
<path d="M1450.65 3240.30h55.20v4.23h-55.20zM1450.65 3260.32h55.20v4.23h-55.20zM1450.65 3280.33h55.20v4.23h-55.20zM1450.65 3300.34h55.20v4.23h-55.20zM1450.65 3320.36h55.20v4.23h-55.20zM1450.65 3340.37h55.20v4.23h-55.20zM1450.65 3360.38h55.20v4.23h-55.20zM1450.65 3380.40h55.20v4.23h-55.20zM1450.65 3400.41h55.20v4.23h-55.20zM1450.65 3420.43h55.20v4.23h-55.20z"/>
<rect x="1448.65" y="3224.70" width="60.10" height="202.20" fill="none" stroke="#000" stroke-width="4.6"/>
<rect x="1462.43" y="3180.60" width="32.14" height="4.70" fill="#000"/>
<rect x="1476.25" y="3180.60" width="4.50" height="43.80" fill="#000"/>
<svg x="1521.65" y="3249.40" width="55.20" height="177.50" viewBox="4.30 -177.50 55.20 177.50" overflow="hidden">
<path d="M-10 -344.20L90 -244.20M-10 -310.85L90 -210.85M-10 -277.49L90 -177.49M-10 -244.14L90 -144.14M-10 -210.79L90 -110.79M-10 -177.43L90 -77.43M-10 -144.08L90 -44.08M-10 -110.73L90 -10.73M-10 -77.38L90 22.62M-10 -44.02L90 55.98M-10 -10.67L90 89.33M-10 22.68L90 122.68M-10 56.04L90 156.04" stroke="#000" stroke-width="10.50" fill="none"/>
</svg>
<rect x="1519.65" y="3247.40" width="60.10" height="179.50" fill="none" stroke="#000" stroke-width="4.6"/>
<rect x="1533.43" y="3209.90" width="32.14" height="4.70" fill="#000"/>
<rect x="1547.25" y="3209.90" width="4.50" height="37.20" fill="#000"/>
<rect x="1655.50" y="3166.70" width="60.10" height="260.20" fill="none" stroke="#000" stroke-width="4.6"/>
<rect x="1669.28" y="3130.00" width="32.14" height="4.70" fill="#000"/>
<rect x="1683.10" y="3130.00" width="4.50" height="36.40" fill="#000"/>
<rect x="1728.50" y="3023.30" width="55.20" height="403.60" fill="#a0a0a4"/>
<rect x="1726.50" y="3021.30" width="60.10" height="405.60" fill="none" stroke="#000" stroke-width="4.6"/>
<rect x="1740.28" y="2902.80" width="32.14" height="4.70" fill="#000"/>
<rect x="1754.10" y="2902.80" width="4.50" height="118.20" fill="#000"/>
<path d="M1799.50 3121.90h55.20v4.23h-55.20zM1799.50 3141.92h55.20v4.23h-55.20zM1799.50 3161.93h55.20v4.23h-55.20zM1799.50 3181.94h55.20v4.23h-55.20zM1799.50 3201.96h55.20v4.23h-55.20zM1799.50 3221.97h55.20v4.23h-55.20zM1799.50 3241.98h55.20v4.23h-55.20zM1799.50 3262.00h55.20v4.23h-55.20zM1799.50 3282.01h55.20v4.23h-55.20zM1799.50 3302.03h55.20v4.23h-55.20zM1799.50 3322.04h55.20v4.23h-55.20zM1799.50 3342.05h55.20v4.23h-55.20zM1799.50 3362.07h55.20v4.23h-55.20zM1799.50 3382.08h55.20v4.23h-55.20zM1799.50 3402.09h55.20v4.23h-55.20zM1799.50 3422.11h55.20v4.23h-55.20z"/>
<rect x="1797.50" y="3106.30" width="60.10" height="320.60" fill="none" stroke="#000" stroke-width="4.6"/>
<rect x="1811.28" y="3070.00" width="32.14" height="4.70" fill="#000"/>
<rect x="1825.10" y="3070.00" width="4.50" height="36.00" fill="#000"/>
<svg x="1870.50" y="3203.50" width="55.20" height="223.40" viewBox="4.30 -223.40 55.20 223.40" overflow="hidden">
<path d="M-10 -377.55L90 -277.55M-10 -344.20L90 -244.20M-10 -310.85L90 -210.85M-10 -277.49L90 -177.49M-10 -244.14L90 -144.14M-10 -210.79L90 -110.79M-10 -177.43L90 -77.43M-10 -144.08L90 -44.08M-10 -110.73L90 -10.73M-10 -77.38L90 22.62M-10 -44.02L90 55.98M-10 -10.67L90 89.33M-10 22.68L90 122.68M-10 56.04L90 156.04" stroke="#000" stroke-width="10.50" fill="none"/>
</svg>
<rect x="1868.50" y="3201.50" width="60.10" height="225.40" fill="none" stroke="#000" stroke-width="4.6"/>
<rect x="1882.28" y="3182.30" width="32.14" height="4.70" fill="#000"/>
<rect x="1896.10" y="3182.30" width="4.50" height="18.90" fill="#000"/>
<rect x="222.55" y="2634.95" width="7.50" height="795.70" fill="#000"/>
<rect x="197.00" y="3423.15" width="1737.00" height="7.50" fill="#000"/>
<rect x="197.00" y="2634.95" width="29.30" height="7.50" fill="#000"/>
<text x="190.70" y="2660.70" font-size="66" font-weight="bold" font-style="normal" text-anchor="end">3</text>
<rect x="197.00" y="2897.75" width="29.30" height="7.50" fill="#000"/>
<text x="190.70" y="2923.50" font-size="66" font-weight="bold" font-style="normal" text-anchor="end">2</text>
<rect x="197.00" y="3160.45" width="29.30" height="7.50" fill="#000"/>
<text x="190.70" y="3186.20" font-size="66" font-weight="bold" font-style="normal" text-anchor="end">1</text>
<rect x="197.00" y="3423.15" width="29.30" height="7.50" fill="#000"/>
<text x="190.70" y="3448.90" font-size="66" font-weight="bold" font-style="normal" text-anchor="end">0</text>
<rect x="392.75" y="3426.90" width="7.50" height="29.00" fill="#000"/>
<text x="325.08" y="3518.00" font-size="65.2" font-weight="bold" font-style="italic">eif2</text>
<text transform="translate(424.97,3526.15) scale(1.22,1)" font-size="64.2">α</text>
<rect x="741.55" y="3426.90" width="7.50" height="29.00" fill="#000"/>
<text x="746.20" y="3518.00" font-size="65.2" font-weight="bold" font-style="italic" text-anchor="middle">atf4</text>
<rect x="1090.35" y="3426.90" width="7.50" height="29.00" fill="#000"/>
<text x="1094.60" y="3518.00" font-size="65.2" font-weight="bold" font-style="italic" text-anchor="middle">atf6</text>
<rect x="1439.15" y="3426.90" width="7.50" height="29.00" fill="#000"/>
<text x="1442.30" y="3518.00" font-size="65.2" font-weight="bold" font-style="italic" text-anchor="middle">ire1</text>
<rect x="1787.95" y="3426.90" width="7.50" height="29.00" fill="#000"/>
<text x="1791.70" y="3518.00" font-size="65.2" font-weight="bold" font-style="italic" text-anchor="middle">grp78</text>
<text transform="translate(105.40,3024.00) rotate(-90)" font-size="73.45" font-weight="bold" text-anchor="middle">Relative mRNA level</text>
<text x="390.90" y="2667.00" font-size="85.2" font-weight="bold" font-style="normal" text-anchor="start">Muscle</text>
<text x="196.10" y="2561.00" font-size="98" font-weight="bold" font-style="normal" text-anchor="start">C</text>
<text x="971.10" y="3071.80" font-size="74" font-weight="normal" font-style="normal" text-anchor="start">b</text>
<text x="1042.60" y="3082.50" font-size="74" font-weight="normal" font-style="normal" text-anchor="start">b</text>
<text x="1115.31" y="2719.80" font-size="74" font-weight="normal" font-style="normal" text-anchor="start">a</text>
<text x="1185.31" y="2832.30" font-size="74" font-weight="normal" font-style="normal" text-anchor="start">a</text>
<rect x="1730.35" y="136.25" width="66.30" height="30.00" fill="none" stroke="#000" stroke-width="4.5"/>
<text x="1836.30" y="168.10" font-size="55" font-weight="normal" font-style="normal" text-anchor="start" letter-spacing="0.45">0 mg/L</text>
<rect x="1732.30" y="232.00" width="61.10" height="26.10" fill="#a0a0a4"/>
<rect x="1730.35" y="230.05" width="66.30" height="30.00" fill="none" stroke="#000" stroke-width="4.5"/>
<text x="1836.30" y="262.50" font-size="55" font-weight="normal" font-style="normal" text-anchor="start" letter-spacing="0.45">0.04 mg/L</text>
<path d="M1732.60 348.15h60.80v4.10h-60.80z"/>
<rect x="1730.35" y="332.65" width="66.30" height="30.00" fill="none" stroke="#000" stroke-width="4.5"/>
<text x="1836.30" y="364.30" font-size="55" font-weight="normal" font-style="normal" text-anchor="start" letter-spacing="0.45">0.18 mg/L</text>
<svg x="1732.60" y="438.30" width="60.80" height="25.50" viewBox="4.50 -30.00 60.80 25.50" overflow="hidden">
<path d="M-10 -176.20L90 -76.20M-10 -143.85L90 -43.85M-10 -111.50L90 -11.50M-10 -79.15L90 20.85M-10 -46.80L90 53.20M-10 -14.45L90 85.55M-10 17.90L90 117.90M-10 50.25L90 150.25" stroke="#000" stroke-width="10.18" fill="none"/>
</svg>
<rect x="1730.35" y="436.05" width="66.30" height="30.00" fill="none" stroke="#000" stroke-width="4.5"/>
<text x="1836.30" y="467.70" font-size="55" font-weight="normal" font-style="normal" text-anchor="start" letter-spacing="0.45">0.70 mg/L</text>
</svg>
</body></html>
